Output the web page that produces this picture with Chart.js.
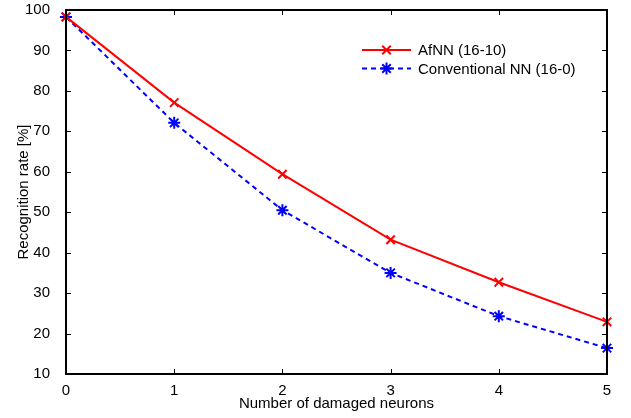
<!DOCTYPE html>
<html>
<head>
<meta charset="utf-8">
<script src="https://cdn.jsdelivr.net/npm/chart.js@4"></script>
<style>
  html, body { margin: 0; padding: 0; background: #fff; }
  #wrap { width: 631px; height: 418px; }
</style>
</head>
<body>
<div id="wrap"><canvas id="myChart" width="631" height="418"></canvas></div>
<script>
const damaged = [0, 1, 2, 3, 4, 5];
const afnn = [98.3, 77.1, 59.4, 43.2, 32.7, 22.9];
const conventional = [98.3, 72.1, 50.5, 35.0, 24.3, 16.4];
const yTicks = [10, 20, 30, 40, 50, 60, 70, 80, 90, 100];
const seriesNames = ["AfNN (16-10)", "Conventional NN (16-0)"];

const FONT = "'Liberation Sans', Arial, Helvetica, sans-serif";

const toPoints = (ys) => damaged.map((x, i) => ({ x: x, y: ys[i] }));

// MATLAB-style box with inward ticks, plus legend inside the axes
const frame = {
  id: "frame",
  afterDraw(chart) {
    const { ctx, chartArea: a, scales } = chart;
    ctx.save();
    ctx.strokeStyle = "#000";
    ctx.lineWidth = 1;
    const t = 5;
    ctx.beginPath();
    damaged.forEach((v) => {
      const px = Math.round(scales.x.getPixelForValue(v)) + 0.5;
      ctx.moveTo(px, a.bottom); ctx.lineTo(px, a.bottom - t);
      ctx.moveTo(px, a.top); ctx.lineTo(px, a.top + t);
    });
    yTicks.forEach((v) => {
      const py = Math.round(scales.y.getPixelForValue(v)) + 0.5;
      ctx.moveTo(a.left, py); ctx.lineTo(a.left + t, py);
      ctx.moveTo(a.right, py); ctx.lineTo(a.right - t, py);
    });
    ctx.stroke();
    ctx.lineWidth = 2;
    ctx.strokeRect(a.left, a.top, a.right - a.left, a.bottom - a.top);

    // legend
    const rows = [
      { name: seriesNames[0], color: "#ff0000", dash: [], style: "crossRot" },
      { name: seriesNames[1], color: "#0000ff", dash: [5, 4], style: "star" },
    ];
    const x0 = 362, x1 = 411;
    rows.forEach((r, i) => {
      const y = 50 + i * 18.5;
      ctx.strokeStyle = r.color;
      ctx.lineWidth = 2;
      ctx.setLineDash(r.dash);
      ctx.beginPath(); ctx.moveTo(x0, y); ctx.lineTo(x1, y); ctx.stroke();
      ctx.setLineDash([]);
      Chart.helpers.drawPoint(ctx, { pointStyle: r.style, radius: 6, borderWidth: 2 }, (x0 + x1) / 2, y);
      ctx.fillStyle = "#000";
      ctx.font = "15px " + FONT;
      ctx.textAlign = "left";
      ctx.textBaseline = "middle";
      ctx.fillText(r.name, 418, y + 1);
    });
    ctx.restore();
  },
};

new Chart(document.getElementById("myChart"), {
  type: "line",
  data: {
    datasets: [
      {
        label: seriesNames[0],
        data: toPoints(afnn),
        borderColor: "#ff0000",
        backgroundColor: "#ff0000",
        borderWidth: 2,
        pointStyle: "crossRot",
        pointRadius: 6,
        pointBorderWidth: 2,
        tension: 0,
      },
      {
        label: seriesNames[1],
        data: toPoints(conventional),
        borderColor: "#0000ff",
        backgroundColor: "#0000ff",
        borderWidth: 2,
        borderDash: [5, 4],
        pointStyle: "star",
        pointRadius: 6,
        pointBorderWidth: 2,
        tension: 0,
      },
    ],
  },
  options: {
    responsive: false,
    animation: false,
    clip: false,
    layout: { padding: { left: 0, top: 10, right: 24, bottom: 0 } },
    plugins: { legend: { display: false }, tooltip: { enabled: false } },
    scales: {
      x: {
        type: "linear",
        min: 0,
        max: 5,
        grid: { display: false },
        border: { display: false },
        afterFit: (s) => { s.height = 44; s.paddingLeft = 0; s.paddingRight = 0; },
        afterBuildTicks: (s) => { s.ticks = damaged.map((v) => ({ value: v })); },
        ticks: { color: "#000", padding: 0, font: { family: FONT, size: 15 } },
        title: {
          display: true,
          text: "Number of damaged neurons",
          color: "#000",
          padding: { top: 0, bottom: 5 },
          font: { family: FONT, size: 15 },
        },
      },
      y: {
        min: 10,
        max: 100,
        grid: { display: false },
        border: { display: false },
        afterFit: (s) => { s.width = 66; s.paddingTop = 0; s.paddingBottom = 0; },
        afterBuildTicks: (s) => { s.ticks = yTicks.map((v) => ({ value: v })); },
        ticks: { color: "#000", padding: 8, font: { family: FONT, size: 15 } },
        title: {
          display: true,
          text: "Recognition rate [%]",
          color: "#000",
          padding: { top: 15, bottom: 0 },
          font: { family: FONT, size: 15 },
        },
      },
    },
  },
  plugins: [frame],
});
</script>
</body>
</html>
